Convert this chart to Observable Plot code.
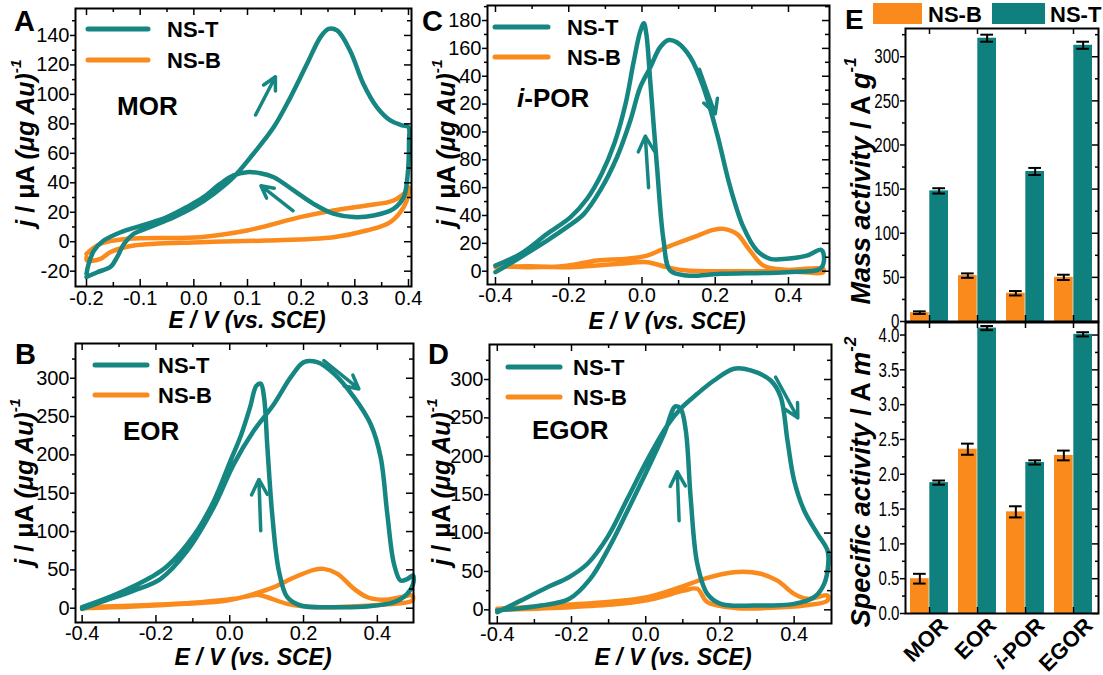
<!DOCTYPE html>
<html><head><meta charset="utf-8">
<script src="https://cdn.jsdelivr.net/npm/d3@7"></script>
<script src="https://cdn.jsdelivr.net/npm/@observablehq/plot@0.6"></script>
<style>
body{margin:0;background:#fff;width:1103px;height:675px;position:relative;overflow:hidden;}
.panel{position:absolute;}
.panel svg{overflow:visible;background:transparent;}
</style></head><body>
<div id="A" class="panel" style="left:0;top:0"></div>
<div id="C" class="panel" style="left:420px;top:0"></div>
<div id="B" class="panel" style="left:0;top:330px"></div>
<div id="D" class="panel" style="left:420px;top:330px"></div>
<div id="E1" class="panel" style="left:830px;top:0"></div>
<div id="E2" class="panel" style="left:830px;top:320px"></div>
<script>
const FONT = '"Liberation Sans", Arial, Helvetica, sans-serif';
const TEAL = "#168682", TEALBAR = "#0f807d", ORANGE = "#fa8a1c";
const seriesNames = ["NS-T", "NS-B"];

// ---------- Panel A: MOR ----------
const morT_E = [-0.200,-0.180,-0.155,-0.143,-0.130,-0.112,-0.081,-0.037,0.000,0.037,0.074,0.111,0.149,0.180,0.211,0.236,0.251,0.267,0.291,0.316,0.341,0.366,0.388,0.400,0.401,0.398,0.391,0.372,0.335,0.298,0.260,0.223,0.186,0.149,0.124,0.099,0.074,0.049,0.018,-0.013,-0.050,-0.087,-0.118,-0.143,-0.168,-0.186,-0.196,-0.200];
const morT_j = [-24,-20.7,-17,-10.5,-1.4,5.4,10,16.7,23.5,32.5,43.8,59.7,77.8,98,120.8,138.9,144.5,143.4,129.8,107,91.3,82.3,79,77.8,68.7,43.8,30.2,22.3,17.8,16.7,19,25.7,34.8,43.8,46.5,47.2,45,39.3,30.2,23.5,16.7,12.1,8.7,5.4,0.8,-6,-15,-21.8];
const morB_E = [-0.200,-0.174,-0.124,0.012,0.099,0.198,0.260,0.322,0.372,0.397,0.400,0.400,0.391,0.366,0.322,0.260,0.136,0.012,-0.112,-0.155,-0.174,-0.199,-0.200];
const morB_j = [-8.2,-1.4,2,3.1,7.6,16.7,21.2,24.6,28,34.8,37,32.5,23.5,13.3,7.6,3.1,0.8,-0.3,-2.6,-7,-11.6,-12.7,-10.5];
const morArrows = [{x1:0.115,y1:86,x2:0.152,y2:112},{x1:0.185,y1:21,x2:0.125,y2:38}];

// ---------- Panel C: i-POR ----------
const iporT_E = [-0.400,-0.332,-0.259,-0.205,-0.159,-0.114,-0.068,-0.032,-0.005,0.023,0.050,0.073,0.095,0.132,0.168,0.205,0.241,0.277,0.314,0.350,0.395,0.450,0.490,0.497,
                 0.486,0.395,0.214,0.123,0.077,0.059,0.041,0.023,0.012,0.005,-0.005,-0.023,-0.045,-0.075,-0.110,-0.150,-0.195,-0.259,-0.332,-0.400];
const iporT_j = [-0.7,10,22,31.6,41,58,82,108,132,146.5,161,166,164.4,153.7,132,98.6,60.3,31.6,14.8,8.9,8.9,11.2,15.3,7.7,
                 1.7,-0.7,-1.9,-3.1,0.5,22,75,135,170,178,172,150,120,92,70,52,38.8,26.8,12.4,4];
const iporB_E = [-0.400,-0.305,-0.205,-0.123,-0.041,0.014,0.068,0.141,0.195,0.223,0.259,0.295,0.332,0.395,0.495,
                 0.495,0.395,0.123,0.068,0.014,-0.059,-0.132,-0.205,-0.305,-0.400];
const iporB_j = [4,2.9,4,7.7,8.9,11.2,17.2,24.4,29.7,30.4,26.8,14.8,4,1,1.7,
                 -0.7,0,0.5,2.9,6.5,5.3,4,2.9,3.6,2.9];
const iporArrows = [{x1:0.157,y1:145,x2:0.2,y2:113},{x1:0.018,y1:60,x2:0.009,y2:97}];

// ---------- Panel B: EOR ----------
const eorT_E = [-0.400,-0.350,-0.260,-0.188,-0.115,-0.043,0.011,0.066,0.120,0.165,0.201,0.237,0.283,0.337,0.382,0.409,0.427,0.445,0.463,0.481,0.497,0.497,
                0.481,0.445,0.373,0.283,0.192,0.156,0.133,0.115,0.102,0.093,0.084,0.072,0.055,0.030,0.000,-0.043,-0.097,-0.169,-0.215,-0.305,-0.400];
const eorT_j = [-1,7.8,23,38,75,132,188,232,266.5,301,321,321,305.7,275,240,197,123,58,36,38,42.6,31.7,
                18.7,7.8,2.2,1.3,3.5,14.3,49,123,210,275,293,290,262,225,190,140,95,55,40,18.7,1.3];
const eorB_E = [-0.400,-0.260,-0.124,-0.007,0.066,0.120,0.174,0.228,0.255,0.292,0.337,0.373,0.418,0.463,0.495,
                0.495,0.418,0.328,0.237,0.156,0.102,0.075,0.011,-0.079,-0.215,-0.400];
const eorB_j = [0,2.2,5.7,10,18.7,27.4,40,50,51.3,44.8,25.2,14.3,10.9,14.3,16.5,
                10,4.8,2.2,1.3,5.7,14.3,17.4,12.2,7.8,4.3,1.3];
const eorArrows = [{x1:0.255,y1:323,x2:0.35,y2:286},{x1:0.084,y1:101,x2:0.079,y2:168}];

// ---------- Panel D: EGOR ----------
const egorT_E = [-0.400,-0.337,-0.265,-0.207,-0.157,-0.103,-0.049,0.004,0.058,0.094,0.139,0.184,0.238,0.283,0.337,0.364,0.382,0.400,0.427,0.463,0.490,0.492,
                 0.481,0.454,0.400,0.292,0.202,0.166,0.139,0.121,0.108,0.094,0.080,0.050,0.000,-0.050,-0.100,-0.150,-0.207,-0.283,-0.400];
const egorT_j = [-3,12,29.5,42.5,60,94.7,145,195,240,262,281.4,298.7,314,311.8,298.7,277,220.6,168.5,129.4,99,77.3,60,
                 33.9,16.5,7.8,5.6,7.8,20.8,60,146.8,233.6,262,265,230,178,128,80,40,14,5.6,-0.9];
const egorB_E = [-0.400,-0.247,-0.112,0.004,0.094,0.157,0.238,0.310,0.355,0.400,0.436,0.490,
                 0.490,0.427,0.337,0.247,0.166,0.139,0.103,0.022,-0.067,-0.202,-0.400];
const egorB_j = [1.3,5.6,10,16.5,29.5,40.4,49,47,38,20.8,14.3,18.7,
                 12,5.6,2.6,2.2,10,27.4,25,14.3,7.8,3.5,0];
const egorArrows = [{x1:0.35,y1:303,x2:0.41,y2:250},{x1:0.09,y1:116,x2:0.085,y2:180}];

// ---------- Axis ticks ----------
const xTicksA = [-0.2,-0.1,0,0.1,0.2,0.3,0.4];
const xMinorA = [-0.15,-0.05,0.05,0.15,0.25,0.35];
const yTicksA = [-20,0,20,40,60,80,100,120,140];
const yMinorA = [-10,10,30,50,70,90,110,130,150];
const xTicksW = [-0.4,-0.2,0,0.2,0.4];
const xMinorW = [-0.3,-0.1,0.1,0.3];
const yTicksC = [0,20,40,60,80,100,120,140,160,180];
const yTickLabelsC = ["0","20","40","60","80","00","20","40","160","180"];
const yMinorC = [10,30,50,70,90,110,130,150,170,190];
const yTicksBD = [0,50,100,150,200,250,300];
const yMinorBD = [25,75,125,175,225,275,325];

// ---------- Panel E ----------
const cats = ["MOR","EOR","i-POR","EGOR"];
const massB = [10,52,32,50];
const massBErr = [1.5,2.5,2.5,3];
const massT = [148,321,170,313];
const massTErr = [3,4,4,4];
const specB = [0.50,2.36,1.46,2.27];
const specBErr = [0.07,0.08,0.08,0.07];
const specT = [1.88,4.10,2.17,4.01];
const specTErr = [0.03,0.03,0.03,0.03];
const yTicksM = [0,50,100,150,200,250,300];
const yMinorM = [25,75,125,175,225,275,325];
const yTicksS = [0,0.5,1,1.5,2,2.5,3,3.5,4];
const yMinorS = [0.25,0.75,1.25,1.75,2.25,2.75,3.25,3.75];

// ---------- helpers ----------
function T(parts, {x, y, size = 22, rotate = 0, anchor = "start", italic = false, weight = "bold"}) {
  return () => {
    const t = d3.create("svg:text")
      .attr("x", x).attr("y", y)
      .attr("font-family", FONT).attr("font-size", size).attr("font-weight", weight)
      .attr("text-anchor", anchor).attr("dominant-baseline", "central").attr("fill", "black");
    if (rotate) t.attr("transform", `rotate(${rotate} ${x} ${y})`);
    for (const p of parts) {
      const [s, st = ""] = typeof p === "string" ? [p] : p;
      const ts = t.append("tspan").text(s);
      if (st.includes("i") || italic) ts.attr("font-style", "italic");
      if (st.includes("^")) ts.attr("font-size", size * 0.62).attr("dy", -size * 0.42);
    }
    return t.node();
  };
}
function cvLegend({x1, x2, tx, ys, size = 22}) {
  return () => {
    const g = d3.create("svg:g");
    [TEAL, ORANGE].forEach((col, i) => {
      g.append("line").attr("x1", x1).attr("x2", x2).attr("y1", ys[i]).attr("y2", ys[i])
        .attr("stroke", col).attr("stroke-width", 5).attr("stroke-linecap", "round");
      g.append("text").attr("x", tx).attr("y", ys[i]).attr("dominant-baseline", "central").attr("text-anchor", "start")
        .attr("font-family", FONT).attr("font-size", size).attr("font-weight", "bold").text(seriesNames[i]);
    });
    return g.node();
  };
}
function squeezeYLabels(svg, k) {
  svg.querySelectorAll('g[aria-label="y-axis tick label"] text').forEach(t => {
    const tr = t.getAttribute("transform") || "";
    const x = parseFloat(t.getAttribute("x")) || 0;
    t.setAttribute("transform", `${tr} translate(${x},0) scale(${k},1) translate(${-x},0)`);
  });
}
const tbl = (E, j) => E.map((e, i) => ({E: e, j: j[i]}));
const yTitleParts = [["j","i"], [" / μA "], ["(μg Au)","i"], ["-1","^i"]];
const xTitleParts = [["E / V (vs. SCE)","i"]];

function cv(id, c) {
  const iw = c.width - c.ml - c.mr, ih = c.height - c.mt - c.mb;
  const plot = Plot.plot({
    width: c.width, height: c.height,
    marginLeft: c.ml, marginRight: c.mr, marginTop: c.mt, marginBottom: c.mb,
    style: {fontFamily: FONT, fontSize: "20px", background: "transparent", overflow: "visible"},
    x: {domain: c.xDomain}, y: {domain: c.yDomain},
    marks: [
      ...c.series.map(s => Plot.line(tbl(s.E, s.j), {x: "E", y: "j", stroke: s.color, strokeWidth: 4.5, curve: "catmull-rom"})),
      Plot.arrow(c.arrows, {x1: "x1", y1: "y1", x2: "x2", y2: "y2", stroke: TEAL, strokeWidth: 3.5, headLength: 11, headAngle: 55}),
      Plot.frame({stroke: "black", strokeWidth: 2}),
      Plot.tickX(c.xTicks, {insetTop: ih - 7, strokeWidth: 1.5}),
      Plot.tickX(c.xMinor, {insetTop: ih - 4, strokeWidth: 1.5}),
      Plot.tickX(c.xTicks, {insetBottom: ih - 7, strokeWidth: 1.5}),
      Plot.tickX(c.xMinor, {insetBottom: ih - 4, strokeWidth: 1.5}),
      Plot.tickY(c.yTicks, {insetLeft: iw - 7, strokeWidth: 1.5}),
      Plot.tickY(c.yMinor, {insetLeft: iw - 4, strokeWidth: 1.5}),
      Plot.axisX(c.xTicks, {tickSize: 0, tickPadding: c.xPad, tickFormat: d => d.toFixed(1), label: null}),
      Plot.axisY(c.yTicks, {tickSize: 5, tickPadding: 1, tickFormat: c.yFmt, label: null, strokeWidth: 1.5}),
      Plot.axisY(c.yMinor, {tickSize: 3, tickFormat: () => "", label: null, strokeWidth: 1.5}),
      cvLegend(c.legend),
      T(c.title, {x: c.titlePos[0], y: c.titlePos[1], size: 26}),
      T([c.letter], {x: c.letterPos[0], y: c.letterPos[1], size: 29}),
      T(xTitleParts, {x: c.xTitle[0], y: c.xTitle[1], size: 23, anchor: "middle"}),
      T(yTitleParts, {x: c.yTitle[0], y: c.yTitle[1], size: 25, anchor: "middle", rotate: -90})
    ]
  });
  document.getElementById(id).append(plot);
}

cv("A", {width: 420, height: 330, ml: 75, mr: 9, mt: 8, mb: 44,
  xDomain: [-0.2205, 0.4056], yDomain: [-30.4, 158.3],
  xTicks: xTicksA, xMinor: xMinorA, yTicks: yTicksA, yMinor: yMinorA, yFmt: d => String(d), xPad: 4,
  series: [{E: morB_E, j: morB_j, color: ORANGE}, {E: morT_E, j: morT_j, color: TEAL}],
  arrows: morArrows, legend: {x1: 88, x2: 148, tx: 167, ys: [29, 60]},
  title: ["MOR"], titlePos: [117, 106], letter: "A", letterPos: [14, 21],
  xTitle: [247, 320], yTitle: [25, 143]});

cv("C", {width: 420, height: 330, ml: 67, mr: 11, mt: 5, mb: 46,
  xDomain: [-0.4218, 0.512], yDomain: [-9.55, 190.8],
  xTicks: xTicksW, xMinor: xMinorW, yTicks: yTicksC, yMinor: yMinorC, yFmt: d => yTickLabelsC[yTicksC.indexOf(d)], xPad: 3,
  series: [{E: iporB_E, j: iporB_j, color: ORANGE}, {E: iporT_E, j: iporT_j, color: TEAL}],
  arrows: iporArrows, legend: {x1: 75, x2: 128, tx: 147, ys: [27, 57]},
  title: [["i","i"], "-POR"], titlePos: [97, 98], letter: "C", letterPos: [2, 21],
  xTitle: [247, 321], yTitle: [26, 143]});

cv("B", {width: 420, height: 345, ml: 75, mr: 7, mt: 13, mb: 53,
  xDomain: [-0.418, 0.498], yDomain: [-18.65, 345.3],
  xTicks: xTicksW, xMinor: xMinorW, yTicks: yTicksBD, yMinor: yMinorBD, yFmt: d => String(d), xPad: 3,
  series: [{E: eorB_E, j: eorB_j, color: ORANGE}, {E: eorT_E, j: eorT_j, color: TEAL}],
  arrows: eorArrows, legend: {x1: 95, x2: 147, tx: 158, ys: [35, 65]},
  title: ["EOR"], titlePos: [123, 101], letter: "B", letterPos: [15, 24],
  xTitle: [253, 327], yTitle: [24, 152]});

cv("D", {width: 420, height: 345, ml: 69, mr: 9, mt: 14, mb: 52,
  xDomain: [-0.421, 0.5007], yDomain: [-17.8, 345.6],
  xTicks: xTicksW, xMinor: xMinorW, yTicks: yTicksBD, yMinor: yMinorBD, yFmt: d => String(d), xPad: 3,
  series: [{E: egorB_E, j: egorB_j, color: ORANGE}, {E: egorT_E, j: egorT_j, color: TEAL}],
  arrows: egorArrows, legend: {x1: 88, x2: 140, tx: 153, ys: [37, 67]},
  title: ["EGOR"], titlePos: [112, 100], letter: "D", letterPos: [8, 24],
  xTitle: [253, 327], yTitle: [21, 152]});

function bars(id, c) {
  const width = 273, ml = 75, mr = 5;
  const iw = width - ml - mr, ih = c.height - c.mt - c.mb;
  const xs = d3.scaleBand(cats, [ml, width - mr]).paddingInner(0.2).paddingOuter(0.1);
  const half = xs.bandwidth() / 2;
  const table = cats.map((cat, i) => ({cat, b: c.B[i], be: c.BErr[i], t: c.T[i], te: c.TErr[i]}));
  const extra = [];
  if (c.legend) {
    extra.push(() => {
      const g = d3.create("svg:g");
      const items = [["NS-B", ORANGE, 43, 92, 98], ["NS-T", TEALBAR, 162, 215, 220]];
      for (const [lab, col, r1, r2, tx] of items) {
        g.append("rect").attr("x", r1).attr("y", 3).attr("width", r2 - r1).attr("height", 21).attr("fill", col);
        g.append("text").attr("x", tx).attr("y", 14).attr("dominant-baseline", "central").attr("text-anchor", "start")
          .attr("font-family", FONT).attr("font-size", 22).attr("font-weight", "bold").text(lab);
      }
      return g.node();
    });
    extra.push(T(["E"], {x: 15, y: 19, size: 28}));
  }
  if (c.catLabels) {
    extra.push(() => {
      const g = d3.create("svg:g");
      for (const cat of cats) {
        const cx = xs(cat) + xs.bandwidth() / 2 + 20, cy = c.height - c.mb + 14;
        const t = g.append("text").attr("x", cx).attr("y", cy).attr("text-anchor", "end")
          .attr("transform", `rotate(-45 ${cx} ${cy})`)
          .attr("font-family", FONT).attr("font-size", 22).attr("font-weight", "bold");
        if (cat.startsWith("i-")) { t.append("tspan").attr("font-style", "italic").text("i"); t.append("tspan").text(cat.slice(1)); }
        else t.text(cat);
      }
      return g.node();
    });
  }
  const plot = Plot.plot({
    width, height: c.height, marginLeft: ml, marginRight: mr, marginTop: c.mt, marginBottom: c.mb,
    style: {fontFamily: FONT, fontSize: "21px", background: "transparent", overflow: "visible"},
    x: {domain: cats, paddingInner: 0.2, paddingOuter: 0.1, axis: null},
    y: {domain: c.yDomain, axis: null},
    marks: [
      Plot.barY(table, {x: "cat", y: "b", fill: ORANGE, insetRight: half}),
      Plot.barY(table, {x: "cat", y: "t", fill: TEALBAR, insetLeft: half}),
      Plot.ruleX(table, {x: "cat", y1: d => d.b - d.be, y2: d => d.b + d.be, dx: -half / 2, strokeWidth: 2}),
      Plot.tickY(table, {x: "cat", y: d => d.b + d.be, insetLeft: 3, insetRight: half + 3, strokeWidth: 2}),
      Plot.tickY(table, {x: "cat", y: d => d.b - d.be, insetLeft: 3, insetRight: half + 3, strokeWidth: 2}),
      Plot.ruleX(table, {x: "cat", y1: d => d.t - d.te, y2: d => d.t + d.te, dx: half / 2, strokeWidth: 2}),
      Plot.tickY(table, {x: "cat", y: d => d.t + d.te, insetLeft: half + 3, insetRight: 3, strokeWidth: 2}),
      Plot.tickY(table, {x: "cat", y: d => d.t - d.te, insetLeft: half + 3, insetRight: 3, strokeWidth: 2}),
      Plot.frame({stroke: "black", strokeWidth: 2}),
      Plot.tickX(cats, {x: d => d, insetTop: ih - 6, strokeWidth: 1.5}),
      Plot.tickX(cats, {x: d => d, insetBottom: ih - 6, strokeWidth: 1.5}),
      Plot.tickY(c.yTicks, {insetLeft: iw - 6, strokeWidth: 1.5}),
      Plot.tickY(c.yMinor, {insetLeft: iw - 3, strokeWidth: 1.5}),
      Plot.axisY(c.yTicks, {tickSize: 5, tickPadding: 1, tickFormat: c.yFmt, label: null, strokeWidth: 1.5}),
      Plot.axisY(c.yMinor, {tickSize: 3, tickFormat: () => "", label: null, strokeWidth: 1.5}),
      T(c.title, {x: 31, y: c.titleY, size: 27, anchor: "middle", rotate: -90}),
      ...extra
    ]
  });
  squeezeYLabels(plot, 0.72);
  document.getElementById(id).append(plot);
}

bars("E1", {height: 322, mt: 28, mb: 1, yDomain: [0, 332], yTicks: yTicksM, yMinor: yMinorM, yFmt: d => String(d),
  B: massB, BErr: massBErr, T: massT, TErr: massTErr,
  title: [["Mass activity","i"], " / A ", ["g","i"], ["-1","^i"]], titleY: 181, legend: true});
bars("E2", {height: 355, mt: 2, mb: 62, yDomain: [0, 4.18], yTicks: yTicksS, yMinor: yMinorS, yFmt: d => d.toFixed(1),
  B: specB, BErr: specBErr, T: specT, TErr: specTErr,
  title: [["Specific activity","i"], " / A ", ["m","i"], ["-2","^i"]], titleY: 162, catLabels: true});
</script>
</body></html>
